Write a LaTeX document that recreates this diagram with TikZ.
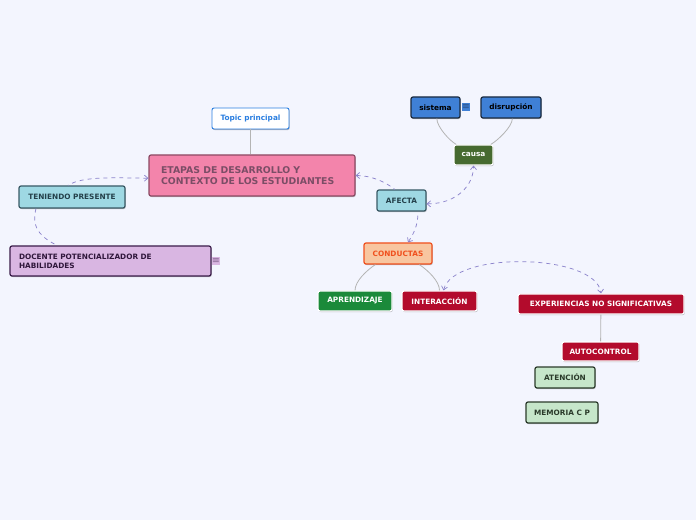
\documentclass[tikz,border=0pt]{standalone}
\usepackage{fontspec}
\setmainfont{DejaVu Sans}
\usepackage{xcolor}
\usepackage{tikz}
\usetikzlibrary{arrows.meta,positioning,shadows}

\definecolor{bgc}{HTML}{F3F5FE}
\definecolor{linkc}{HTML}{B4B4B4}
\definecolor{relc}{HTML}{8C84CC}
\definecolor{topicc}{HTML}{2A7EE0}
\definecolor{etapasf}{HTML}{F384AB}
\definecolor{etapasd}{HTML}{8B4A64}
\definecolor{etapast}{HTML}{7B4D66}
\definecolor{cyanf}{HTML}{9ED8E3}
\definecolor{cyand}{HTML}{3A5A66}
\definecolor{cyant}{HTML}{24404A}
\definecolor{lilaf}{HTML}{D9B6E2}
\definecolor{lilad}{HTML}{3B1D4A}
\definecolor{blauf}{HTML}{3F80D6}
\definecolor{blaud}{HTML}{1A2A40}
\definecolor{causaf}{HTML}{466A30}
\definecolor{naranf}{HTML}{F8C6A0}
\definecolor{narand}{HTML}{F0501E}
\definecolor{verdef}{HTML}{1B8A3A}
\definecolor{rojof}{HTML}{B30B2C}
\definecolor{mentaf}{HTML}{C6E6CA}
\definecolor{mentad}{HTML}{2A3A2A}

\begin{document}
\begin{tikzpicture}[
  x=0.75pt, y=-0.75pt,
  font=\bfseries\fontsize{5.5pt}{6.6pt}\selectfont,
  wh/.style 2 args={minimum width=#1*0.75pt, minimum height=#2*0.75pt},
  box/.style={draw, rounded corners=1.5pt, line width=0.9pt, inner sep=1pt, align=center,
    drop shadow={shadow xshift=0.5pt, shadow yshift=-0.8pt, opacity=0.25, fill=black}},
  note/.style={rectangle, inner sep=0.4pt, minimum size=5.5pt, font=\fontsize{6pt}{6pt}\selectfont},
  link/.style={draw=linkc, line width=0.6pt},
  rel/.style={draw=relc, dashed, line width=0.55pt},
  tip/.style={{Straight Barb[length=2.6pt,width=4.5pt]}-},
  tips/.style={{Straight Barb[length=2.6pt,width=4.5pt]}-{Straight Barb[length=2.6pt,width=4.5pt]}}
]
\fill[bgc] (0,0) rectangle (696,520);
\useasboundingbox (0,0) rectangle (696,520);

% main topic
\node[box, wh={77}{21}, fill=white, draw=topicc, text=topicc, line width=0.7pt] (topic) at (250.5,118.5) {Topic principal};
\node[box, wh={206}{41}, fill=etapasf, draw=etapasd, text=etapast, align=left,
  text width=136.5pt, inner xsep=9pt, font=\bfseries\fontsize{7pt}{8.4pt}\selectfont] (etapas) at (252,175.5)
  {ETAPAS DE DESARROLLO Y\\CONTEXTO DE LOS ESTUDIANTES};

% left branch
\node[box, wh={106}{22}, fill=cyanf, draw=cyand, text=cyant] (teniendo) at (72,197) {TENIENDO PRESENTE};
\node[box, wh={201}{30}, fill=lilaf, draw=lilad, text=lilad!80!black, align=left,
  text width=137.25pt, inner xsep=6.75pt] (docente) at (110.5,261)
  {DOCENTE POTENCIALIZADOR DE\\HABILIDADES};
\node[note, fill=lilaf, text=lilad] (docnote) at (216,261) {$\equiv$};

% right branch
\node[box, wh={49}{21}, fill=blauf, draw=blaud, text=black] (sistema) at (435.5,107.5) {sistema};
\node[note, fill=blauf, text=blaud] (signote) at (466,107) {$\equiv$};
\node[box, wh={60}{21}, fill=blauf, draw=blaud, text=black] (disrupcion) at (511,107.5) {disrupción};
\node[box, wh={39}{20}, fill=causaf, draw=white, text=white] (causa) at (473.5,155) {causa};
\node[box, wh={49}{21}, fill=cyanf, draw=cyand, text=cyant] (afecta) at (401.5,200.5) {AFECTA};
\node[box, wh={68}{21}, fill=naranf, draw=narand, text=narand] (conductas) at (398,253.5) {CONDUCTAS};
\node[box, wh={74}{20}, fill=verdef, draw=white, text=white] (aprendizaje) at (355,301) {APRENDIZAJE};
\node[box, wh={75}{20}, fill=rojof, draw=white, text=white] (interaccion) at (439.5,301) {INTERACCIÓN};
\node[box, wh={166}{20}, fill=rojof, draw=white, text=white] (experiencias) at (601,304) {EXPERIENCIAS NO SIGNIFICATIVAS};
\node[box, wh={77}{19}, fill=rojof, draw=white, text=white] (autocontrol) at (600.5,351.5) {AUTOCONTROL};
\node[box, wh={60}{21}, fill=mentaf, draw=mentad, text=mentad] (atencion) at (565,377.5) {ATENCIÓN};
\node[box, wh={72}{21}, fill=mentaf, draw=mentad, text=mentad] (memoria) at (562,412.5) {MEMORIA C P};

% links
\draw[link] (topic.south) -- (topic.south |- etapas.north);
\draw[link] ([xshift=-13pt]causa.north) .. controls +(-7,-4) and +(0,8) .. ([xshift=1pt]sistema.south);
\draw[link] ([xshift=13pt]causa.north) .. controls +(7,-4) and +(0,8) .. ([xshift=1pt]disrupcion.south);
\draw[link] ([xshift=-17pt]conductas.south) .. controls +(-9,6) and +(0,-9) .. (aprendizaje.north);
\draw[link] ([xshift=16pt]conductas.south) .. controls +(9,6) and +(0,-9) .. (interaccion.north);
\draw[link] (experiencias) -- (autocontrol);

% relations
\draw[rel, tip] ([yshift=-2pt]etapas.west) .. controls +(-30,0) and +(15,-10) .. ([xshift=-3pt]teniendo.north);
\draw[rel] ([xshift=-27pt]teniendo.south) .. controls +(-6,22) and +(-12,-6) .. ([xshift=-40pt]docente.north);
\draw[rel, tip] (etapas.east) .. controls +(15,0) and +(-10,-8) .. ([xshift=-5pt]afecta.north);
\draw[rel, tips] ([yshift=-2.5pt]afecta.east) .. controls +(30,0) and +(0,20) .. (causa.south);
\draw[rel, tip] ([xshift=7.5pt]conductas.north) .. controls +(5,-8) and +(0,15) .. ([xshift=12.4pt]afecta.south);
\draw[rel, tips] ([xshift=3pt]interaccion.north) .. controls +(10,-40) and +(-5,-40) .. (experiencias.north);
\end{tikzpicture}
\end{document}
